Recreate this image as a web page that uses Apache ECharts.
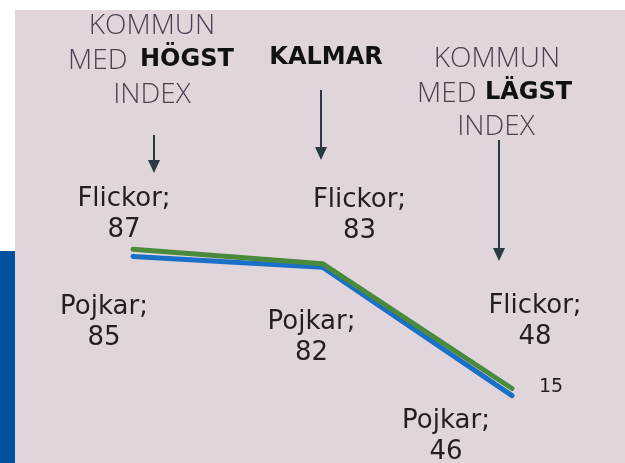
<!DOCTYPE html>
<html>
<head>
<meta charset="utf-8">
<script src="https://cdn.jsdelivr.net/npm/echarts@6/dist/echarts.min.js"></script>
<style>
  html, body { margin: 0; padding: 0; background: #fff; }
  #chart { width: 625px; height: 463px; }
</style>
</head>
<body>
<div id="chart"></div>
<script>
// kommuner: högst index, Kalmar, lägst index
const categories = ['Högst', 'Kalmar', 'Lägst'];
const flickor = [87, 83, 48];
const pojkar = [85, 82, 46];
// label offsets from each point (px)
const flickorOffsets = [[-9, -35], [37, -48], [23, -67]];
const pojkarOffsets = [[-29, 66], [-11, 71], [-66, 41]];

const chart = echarts.init(document.getElementById('chart'));

const labelFont = {
  fontFamily: 'DejaVu Sans',
  fontSize: 26,
  color: '#231f20',
  lineHeight: 31,
  align: 'center',
  verticalAlign: 'middle'
};

function makeData(values, name, offsets) {
  return values.map((v, i) => ({
    value: v,
    label: {
      show: true,
      position: 'inside',
      offset: offsets[i],
      formatter: name + ';\n' + v,
      ...labelFont
    }
  }));
}

const headLight = { fontFamily: 'Open Sans', fontSize: 28, fontWeight: 300, fill: '#4e3f52', textAlign: 'center', textVerticalAlign: 'middle' };
const headBold = { fontFamily: 'DejaVu Sans', fontSize: 24, fontWeight: 'bold', fill: '#111', textAlign: 'center', textVerticalAlign: 'middle' };

function arrow(x, y1, y2) {
  return [
    { type: 'line', shape: { x1: x, y1: y1, x2: x, y2: y2 - 10 }, style: { stroke: '#2b3a42', lineWidth: 2 } },
    { type: 'polygon', shape: { points: [[x - 6, y2 - 13], [x + 6, y2 - 13], [x, y2]] }, style: { fill: '#2b3a42' } }
  ];
}

const option = {
  backgroundColor: '#ffffff',
  animation: false,
  grid: { left: 133, right: 113, top: 203, bottom: 46 },
  xAxis: {
    type: 'category',
    data: categories,
    boundaryGap: false,
    show: false
  },
  yAxis: {
    type: 'value',
    min: 40,
    max: 100,
    show: false
  },
  graphic: [
    { type: 'rect', z: -10, shape: { x: 15, y: 10, width: 610, height: 453 }, style: { fill: '#dfd5da' } },
    { type: 'rect', z: -9, shape: { x: 0, y: 251, width: 15, height: 212 }, style: { fill: '#00509e' } },
    // left header
    { type: 'text', style: { text: 'KOMMUN', x: 152, y: 26, ...headLight } },
    { type: 'text', style: { text: 'MED', x: 68, y: 61, ...headLight, textAlign: 'left' } },
    { type: 'text', style: { text: 'HÖGST', x: 140, y: 60, ...headBold, textAlign: 'left' } },
    { type: 'text', style: { text: 'INDEX', x: 152, y: 95, ...headLight } },
    // Kalmar
    { type: 'text', style: { text: 'KALMAR', x: 326, y: 58, ...headBold } },
    // right header
    { type: 'text', style: { text: 'KOMMUN', x: 497, y: 59, ...headLight } },
    { type: 'text', style: { text: 'MED', x: 417, y: 94, ...headLight, textAlign: 'left' } },
    { type: 'text', style: { text: 'LÄGST', x: 485, y: 93, ...headBold, textAlign: 'left' } },
    { type: 'text', style: { text: 'INDEX', x: 496, y: 127, ...headLight } },
    ...arrow(154, 135, 173),
    ...arrow(321, 90, 160),
    ...arrow(499, 140, 261),
    { type: 'text', style: { text: '15', x: 551, y: 387, fontFamily: 'DejaVu Sans', fontSize: 19, fill: '#231f20', textAlign: 'center', textVerticalAlign: 'middle' } }
  ],
  series: [
    {
      name: 'Pojkar',
      type: 'line',
      data: makeData(pojkar, 'Pojkar', pojkarOffsets),
      symbol: 'circle',
      symbolSize: 1,
      lineStyle: { color: '#1a6fc6', width: 5, cap: 'round' },
      itemStyle: { color: '#1a6fc6' },
      z: 2
    },
    {
      name: 'Flickor',
      type: 'line',
      data: makeData(flickor, 'Flickor', flickorOffsets),
      symbol: 'circle',
      symbolSize: 1,
      lineStyle: { color: '#4a8a3c', width: 5, cap: 'round' },
      itemStyle: { color: '#4a8a3c' },
      z: 3
    }
  ]
};

chart.setOption(option);
</script>
</body>
</html>
